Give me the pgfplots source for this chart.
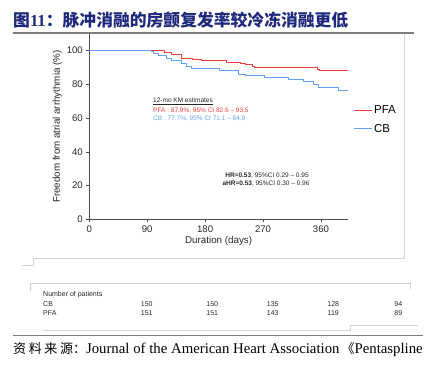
\documentclass[border=0pt]{standalone}
\usepackage{fontspec}
\setmainfont{Liberation Sans}
\newfontfamily\cjk{Noto Sans CJK SC}
\newfontfamily\serif{Liberation Serif}
\usepackage{pgfplots}
\pgfplotsset{compat=1.18}
\definecolor{pfared}{RGB}{242,62,62}
\definecolor{cbblue}{RGB}{98,162,250}
\definecolor{titleblue}{RGB}{30,40,125}
\definecolor{framegray}{RGB}{210,210,210}
\definecolor{rulegray}{RGB}{125,125,125}
\begin{document}
\begin{tikzpicture}
\path[use as bounding box] (0pt,0pt) rectangle (436pt,-368pt);
% title
\node[anchor=west,inner sep=0pt,text=titleblue] at (13pt,-20.5pt)
  {\cjk\bfseries\fontsize{16.8}{16.8}\selectfont 图{\serif\bfseries 11}：脉冲消融的房颤复发率较冷冻消融更低};
\draw[rulegray,line width=1.3pt] (12.7pt,-33pt) -- (414pt,-33pt);
% frame artefacts
\draw[framegray,line width=0.6pt] (404pt,-34pt) -- (404pt,-258pt) -- (33pt,-258pt) -- (33pt,-265pt) -- (22pt,-265pt);
\draw[framegray,line width=0.6pt] (30pt,-291pt) -- (30pt,-283pt) -- (410pt,-283pt) -- (410pt,-289pt);
\draw[framegray,line width=0.6pt] (43pt,-330pt) -- (350pt,-330pt) -- (350pt,-325pt) -- (418pt,-325pt);
\begin{axis}[
  at={(89.3pt,-219.3pt)}, anchor=south west,
  width=258.7pt, height=185.6pt, scale only axis,
  xmin=0, xmax=402, ymin=0, ymax=110,
  axis lines=left,
  axis line style={-, draw=black!70, line width=0.6pt},
  xtick={0,90,180,270,360}, ytick={0,20,40,60,80,100},
  tick align=outside, major tick length=3pt,
  tick style={black!70, line width=0.6pt},
  /pgf/number format/assume math mode=true,
  ticklabel style={font=\fontsize{9.6}{9.6}\selectfont, text=black!85},
  xlabel={Duration (days)},
  ylabel={Freedom from atrial arrhythmia (\%)},
  label style={font=\fontsize{9.8}{9.8}\selectfont, text=black!85},
  xlabel style={yshift=3pt},
  ylabel style={yshift=-2pt},
  legend style={at={(1.015,0.63)}, anchor=north west, draw=none, fill=none,
    font=\fontsize{11.5}{11.5}\selectfont, row sep=5pt, inner sep=1pt},
  legend cell align=left,
  legend image code/.code={\draw[#1] (0pt,0pt) -- (18pt,0pt);},
]
\addplot[const plot, pfared, line width=1pt] coordinates {
(0,100) (117,99.0) (128,97.5) (143,95.5) (161,94.5) (175,93.9) (213,92.9)
(235,92.3) (242,91.5) (254,90.5) (257,89.9) (354,88.6) (358,87.9) (402,87.9)};
\addlegendentry{PFA}
\addplot[const plot, cbblue, line width=1pt] coordinates {
(0,100) (96,99.3) (100,98.0) (107,96.9) (120,95.5) (128,94.1) (144,92.5)
(151,90.5) (159,89.2) (203,88.1) (232,86.0) (242,85.0) (273,84.0) (309,82.8)
(333,81.8) (348,79.7) (356,78.0) (388,76.3) (402,76.3)};
\addlegendentry{CB}
\end{axis}
% annotations
\begin{scope}[every node/.style={inner sep=0pt, font=\fontsize{6.5}{6.5}\selectfont}]
\node[anchor=west, text=black!85] at (153pt,-101.5pt) {\underline{12-mo KM estimates}};
\node[anchor=west, text=pfared] at (153pt,-110.5pt) {PFA : 87.9\%, 95\% CI 82.6 -- 93.5};
\node[anchor=west, text=cbblue] at (153pt,-119pt) {CB : 77.7\%, 95\% CI 71.1 -- 84.9};
\node[text=black!85] at (267pt,-176pt) {\textbf{HR=0.53}, 95\%CI 0.29 -- 0.95};
\node[text=black!85] at (266pt,-184pt) {\textbf{aHR=0.53}, 95\%CI 0.30 -- 0.96};
\end{scope}
% number at risk
\begin{scope}[every node/.style={inner sep=0pt, font=\fontsize{7}{7}\selectfont, text=black!85}]
\node[anchor=west] at (43pt,-295pt) {Number of patients};
\node[anchor=west] at (43pt,-304.5pt) {CB};
\node[anchor=west] at (43pt,-313pt) {PFA};
\node at (146.7pt,-304.5pt) {150};
\node at (212.3pt,-304.5pt) {150};
\node at (272.7pt,-304.5pt) {135};
\node at (333.3pt,-304.5pt) {128};
\node at (398.3pt,-304.5pt) {94};
\node at (146.7pt,-313pt) {151};
\node at (212.3pt,-313pt) {151};
\node at (272.7pt,-313pt) {143};
\node at (333.3pt,-313pt) {119};
\node at (398.3pt,-313pt) {89};
\end{scope}
% source
\draw[rulegray,line width=1pt] (12.7pt,-335pt) -- (423pt,-335pt);
\node[anchor=base west, inner sep=0pt] at (13pt,-353pt)
  {{\cjk\fontsize{13}{13}\selectfont 资\hspace{2.6pt}料\hspace{2.6pt}来\hspace{2.6pt}源：}{\serif\fontsize{14.8}{14.8}\selectfont Journal of the American Heart Association\hspace{2pt}{\cjk\fontsize{13}{13}\selectfont 《}Pentaspline}};
\end{tikzpicture}
\end{document}
